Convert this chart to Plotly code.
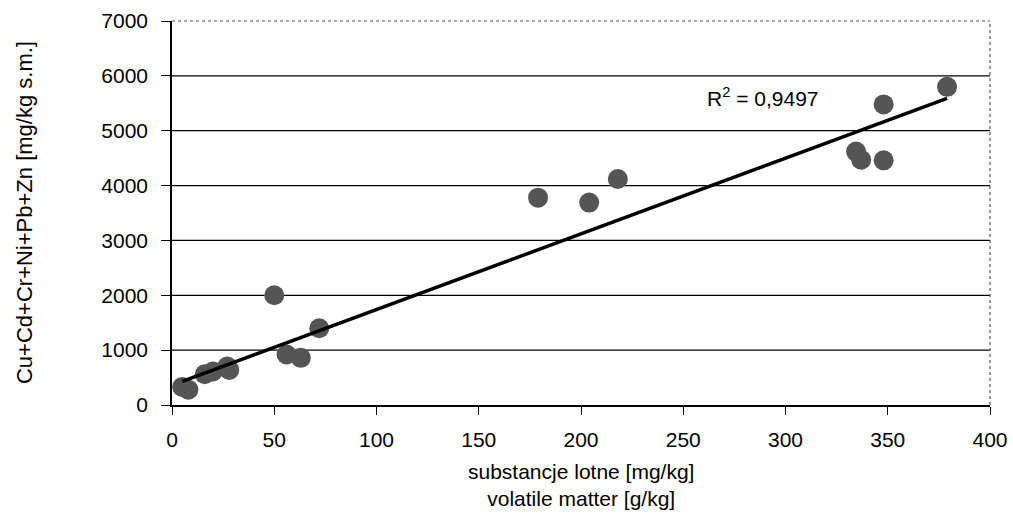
import plotly.graph_objects as go

# Data
volatile = [5, 8, 16, 20, 27, 28, 50, 56, 63, 72, 179, 204, 218, 334.5, 337, 348, 348, 379]
metals = [330, 280, 560, 610, 700, 640, 2000, 920, 860, 1400, 3780, 3690, 4120, 4620, 4470, 5480, 4460, 5800]
trend_slope = 13.8
trend_intercept = 360
r2_text = "R<sup>2</sup> = 0,9497"
x_ticks = [0, 50, 100, 150, 200, 250, 300, 350, 400]
y_ticks = [0, 1000, 2000, 3000, 4000, 5000, 6000, 7000]

FONT = "Liberation Sans, Arial, sans-serif"

fig = go.Figure()
fig.add_trace(go.Scatter(
    x=volatile, y=metals, mode="markers",
    marker=dict(size=20, color="#555555", line=dict(width=0)),
    showlegend=False, hoverinfo="x+y"))

x0, x1 = min(volatile), max(volatile)
fig.add_trace(go.Scatter(
    x=[x0, x1], y=[trend_intercept + trend_slope * x0, trend_intercept + trend_slope * x1],
    mode="lines", line=dict(color="black", width=3.5), showlegend=False, hoverinfo="skip"))

shapes = []
for v in y_ticks[1:-1]:
    shapes.append(dict(type="line", xref="paper", yref="y", x0=0, x1=1, y0=v, y1=v,
                       line=dict(color="black", width=1.2), layer="below"))
shapes.append(dict(type="line", xref="paper", yref="paper", x0=0, x1=1, y0=1, y1=1,
                   line=dict(color="#555", width=1.2, dash="dot")))
shapes.append(dict(type="line", xref="paper", yref="paper", x0=1, x1=1, y0=0, y1=1,
                   line=dict(color="#555", width=1.2, dash="dot")))

fig.update_layout(
    width=1013, height=514,
    margin=dict(l=172, r=23, t=21, b=109),
    paper_bgcolor="white", plot_bgcolor="white",
    font=dict(family=FONT, size=21, color="black"),
    shapes=shapes,
    xaxis=dict(range=[0, 400], tickvals=x_ticks, showgrid=False, zeroline=False,
               showline=True, linecolor="black", linewidth=1.5, automargin=False,
               ticks="outside", ticklen=8, tickcolor="black", ticklabelstandoff=7,
               tickfont=dict(size=21, family=FONT)),
    yaxis=dict(range=[0, 7000], tickvals=y_ticks, showgrid=False, zeroline=False,
               showline=True, linecolor="black", linewidth=1.5, automargin=False,
               ticks="outside", ticklen=9, tickcolor="black", ticklabelstandoff=9,
               tickfont=dict(size=21, family=FONT)),
    annotations=[
        dict(text=r2_text, x=289, y=5614, xref="x", yref="y", showarrow=False,
             font=dict(size=21, family=FONT)),
        dict(text="substancje lotne [mg/kg]<br>volatile matter [g/kg]",
             x=0.5, y=-0.209, xref="paper", yref="paper", xanchor="center", yanchor="middle",
             showarrow=False, font=dict(size=21, family=FONT)),
        dict(text="Cu+Cd+Cr+Ni+Pb+Zn [mg/kg s.m.]", textangle=-90,
             x=-0.1809, y=0.5, xref="paper", yref="paper", xanchor="center", yanchor="middle",
             showarrow=False, font=dict(size=22, family=FONT)),
    ],
)

fig.write_html("out.html")
